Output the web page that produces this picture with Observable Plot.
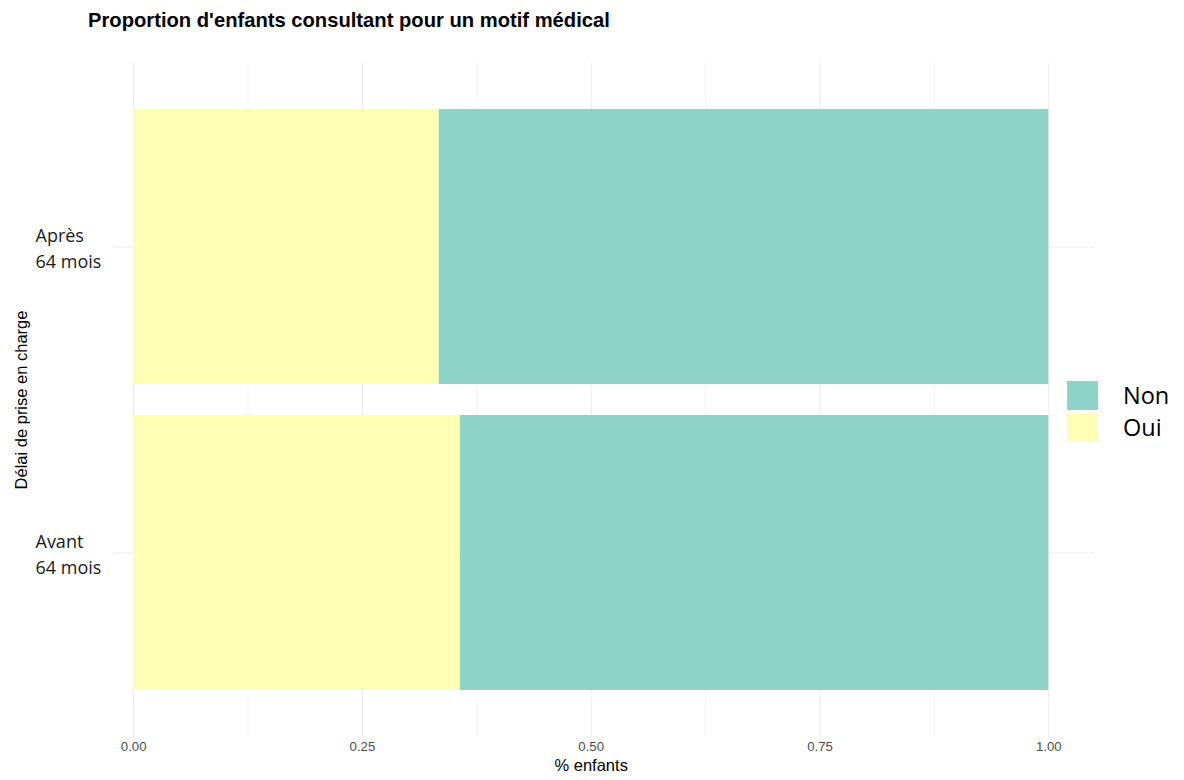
<!DOCTYPE html>
<html><head><meta charset="utf-8">
<script src="https://cdn.jsdelivr.net/npm/d3@7"></script>
<script src="https://cdn.jsdelivr.net/npm/@observablehq/plot@0.6"></script>
<style>
body{margin:0;background:#fff;}
#wrap{position:relative;width:1184px;height:780px;overflow:hidden;}
#title{position:absolute;left:88px;top:8px;font:bold 20.2px "Liberation Sans",Arial,sans-serif;color:#000;line-height:24px;}
#chart{position:absolute;left:0;top:45px;}
#legend{position:absolute;left:1067px;top:379px;font-family:"Open Sans",sans-serif;font-size:23.5px;color:#000;}
.row{display:flex;align-items:center;height:32px;}
.key{width:31px;height:29px;margin-right:25px;flex:none;}
.row span{line-height:28px;display:block;}
</style></head><body>
<div id="wrap"><div id="title"></div><div id="chart"></div><div id="legend"></div></div>
<script>
const title = "Proportion d'enfants consultant pour un motif médical";
const categories = ["Après\n64 mois", "Avant\n64 mois"];
const ouiValues = [0.334, 0.357];
const nonValues = [0.666, 0.643];
const responses = ["Non", "Oui"];
const colors = ["#8DD3C7", "#FFFFB3"];
const stackOrder = ["Oui", "Non"];
const xTicks = [0, 0.25, 0.5, 0.75, 1];
const xMinorTicks = [0.125, 0.375, 0.625, 0.875];
const xLabel = "% enfants";
const yLabel = "Délai de prise en charge";

const rows = categories.flatMap((c, i) => [
  {cat: c, resp: "Oui", value: ouiValues[i]},
  {cat: c, resp: "Non", value: nonValues[i]}
]);

document.getElementById("title").textContent = title;

const xMid = (xTicks[0] + xTicks[xTicks.length - 1]) / 2;
const fmt = d3.format(".2f");

const chart = Plot.plot({
  width: 1184,
  height: 735,
  marginTop: 17,
  marginBottom: 43,
  marginLeft: 113,
  marginRight: 90,
  style: {fontFamily: "'Liberation Sans', Arial, sans-serif", fontSize: "13px", background: "#fff"},
  x: {domain: [-0.022, 1.05], axis: null},
  y: {domain: categories, paddingInner: 0.1, paddingOuter: 0.15, axis: null},
  color: {domain: responses, range: colors},
  marks: [
    Plot.gridX(xMinorTicks, {stroke: "#f2f2f2", strokeOpacity: 1, strokeWidth: 0.8}),
    Plot.gridX(xTicks, {stroke: "#ebebeb", strokeOpacity: 1, strokeWidth: 1.1}),
    Plot.gridY(categories, {stroke: "#ebebeb", strokeOpacity: 1, strokeWidth: 1.1}),
    Plot.barX(rows, {x: "value", y: "cat", fill: "resp", order: stackOrder}),
    Plot.text(xTicks, {x: d => d, text: d => fmt(d), frameAnchor: "bottom", dy: 13, fontSize: 13.2, fill: "#4d4d4d"}),
    Plot.text(categories, {y: d => d, text: d => d, frameAnchor: "left", dx: -78, textAnchor: "start",
      fontFamily: "'Open Sans', sans-serif", fontSize: 18, lineHeight: 1.45, fill: "#1a1a1a"}),
    Plot.text([xLabel], {x: () => xMid, text: d => d, frameAnchor: "bottom", dy: 33, fontSize: 16.5, fill: "#000"}),
    Plot.text([yLabel], {text: d => d, frameAnchor: "left", textAnchor: "middle", dx: -92, rotate: -90, fontSize: 16.5, fill: "#000"})
  ]
});
document.getElementById("chart").appendChild(chart);

const legend = document.getElementById("legend");
responses.forEach((r, i) => {
  const row = document.createElement("div");
  row.className = "row";
  const key = document.createElement("div");
  key.className = "key";
  key.style.background = colors[i];
  const lab = document.createElement("span");
  lab.textContent = r;
  row.appendChild(key);
  row.appendChild(lab);
  legend.appendChild(row);
});
</script>
</body></html>
